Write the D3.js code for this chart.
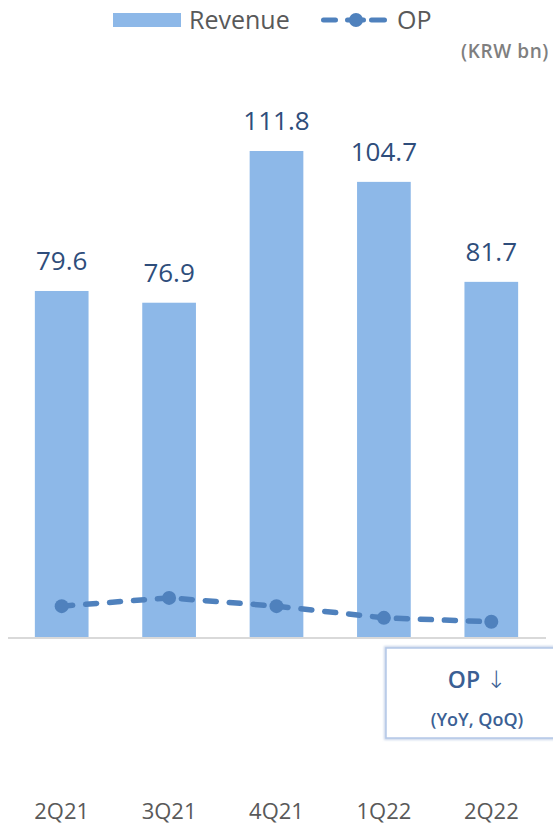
<!DOCTYPE html>
<html>
<head>
<meta charset="utf-8">
<script src="https://cdn.jsdelivr.net/npm/d3@7/dist/d3.min.js"></script>
<style>
  html, body { margin: 0; padding: 0; background: #fff; }
  svg { display: block; font-family: "Open Sans", "Noto Sans", sans-serif; }
</style>
</head>
<body>
<svg id="chart" width="553" height="832"></svg>
<script>
// Quarterly revenue and operating profit (KRW bn)
const quarters = ["2Q21", "3Q21", "4Q21", "1Q22", "2Q22"];
const revenue = [79.6, 76.9, 111.8, 104.7, 81.7];
const op = [7.1, 9.0, 7.1, 4.4, 3.5];
const legendLabels = ["Revenue", "OP"];
const unitLabel = "(KRW bn)";
const noteTitle = "OP";
const noteArrow = "↓";
const noteSub = "(YoY, QoQ)";

const barColor = "#8db8e8";
const opColor = "#4f81bd";
const labelColor = "#2e4d7b";
const greyText = "#595959";

const svg = d3.select("#chart");

const x = d3.scaleBand()
  .domain(quarters)
  .range([8, 545])
  .paddingInner(0.5)
  .paddingOuter(0.25);

const y = d3.scaleLinear()
  .domain([0, 140])
  .range([637, 637 - 140 * 4.347]);

// Bars
svg.append("g").selectAll("rect")
  .data(quarters)
  .join("rect")
  .attr("x", d => x(d))
  .attr("y", (d, i) => y(revenue[i]))
  .attr("width", x.bandwidth())
  .attr("height", (d, i) => y(0) - y(revenue[i]))
  .attr("fill", barColor);

// Baseline
svg.append("line")
  .attr("x1", 8).attr("x2", 546)
  .attr("y1", y(0) + 1).attr("y2", y(0) + 1)
  .attr("stroke", "#d9d9d9").attr("stroke-width", 2);

// Value labels
svg.append("g").selectAll("text")
  .data(quarters)
  .join("text")
  .attr("x", d => x(d) + x.bandwidth() / 2)
  .attr("y", (d, i) => y(revenue[i]) - 21)
  .attr("text-anchor", "middle")
  .attr("font-size", 26)
  .attr("fill", labelColor)
  .text((d, i) => revenue[i].toFixed(1));

// OP line
const line = d3.line()
  .x((d, i) => x(quarters[i]) + x.bandwidth() / 2)
  .y(d => y(d));

svg.append("path")
  .datum(op)
  .attr("d", line)
  .attr("fill", "none")
  .attr("stroke", opColor)
  .attr("stroke-width", 5.5)
  .attr("stroke-linecap", "round")
  .attr("stroke-dasharray", "11,13");

svg.append("g").selectAll("circle")
  .data(op)
  .join("circle")
  .attr("cx", (d, i) => x(quarters[i]) + x.bandwidth() / 2)
  .attr("cy", d => y(d))
  .attr("r", 7)
  .attr("fill", opColor);

// X axis labels
const xAxis = d3.axisBottom(x).tickSize(0).tickPadding(0);
const gx = svg.append("g")
  .attr("transform", "translate(0,803)")
  .call(xAxis);
gx.select(".domain").remove();
gx.selectAll("text")
  .attr("font-size", 22)
  .attr("font-family", "\"Open Sans\", \"Noto Sans\", sans-serif")
  .attr("fill", greyText);

// Legend
const lg = svg.append("g");
lg.append("rect")
  .attr("x", 113).attr("y", 13).attr("width", 68).attr("height", 14)
  .attr("fill", barColor);
lg.append("text")
  .attr("x", 189).attr("y", 29)
  .attr("font-size", 25).attr("fill", greyText)
  .text(legendLabels[0]);
lg.append("line")
  .attr("x1", 323.5).attr("x2", 384.5).attr("y1", 20).attr("y2", 20)
  .attr("stroke", opColor).attr("stroke-width", 5)
  .attr("stroke-linecap", "round")
  .attr("stroke-dasharray", "12,12,16,8,13");
lg.append("circle")
  .attr("cx", 356).attr("cy", 20).attr("r", 7).attr("fill", opColor);
lg.append("text")
  .attr("x", 397).attr("y", 29)
  .attr("font-size", 25).attr("fill", greyText)
  .text(legendLabels[1]);

svg.append("text")
  .attr("x", 549).attr("y", 58)
  .attr("text-anchor", "end")
  .attr("font-size", 19).attr("font-weight", 600)
  .attr("letter-spacing", 0.6)
  .attr("fill", "#7f7f7f")
  .text(unitLabel);

// Note box
const defs = svg.append("defs");
const f = defs.append("filter").attr("id", "soft").attr("x", "-10%").attr("y", "-10%").attr("width", "120%").attr("height", "120%");
f.append("feGaussianBlur").attr("stdDeviation", 1.2);

svg.append("rect")
  .attr("x", 386).attr("y", 648).attr("width", 175).attr("height", 90)
  .attr("fill", "none").attr("stroke", "#c9d6ea").attr("stroke-width", 4)
  .attr("filter", "url(#soft)");
svg.append("rect")
  .attr("x", 386).attr("y", 648).attr("width", 175).attr("height", 90)
  .attr("fill", "#fff").attr("stroke", "#b4c7e7").attr("stroke-width", 1.5);
const title = svg.append("text")
  .attr("x", 477).attr("y", 688)
  .attr("text-anchor", "middle")
  .attr("font-size", 23).attr("font-weight", 600)
  .attr("fill", "#3b5f94");
title.append("tspan").text(noteTitle + " ");
title.append("tspan")
  .attr("font-family", "\"DejaVu Sans\", sans-serif")
  .attr("font-weight", 300)
  .attr("font-size", 24)
  .text(noteArrow);
svg.append("text")
  .attr("x", 477).attr("y", 726)
  .attr("text-anchor", "middle")
  .attr("font-size", 18).attr("font-weight", 600)
  .attr("fill", "#3b5f94")
  .text(noteSub);
</script>
</body>
</html>
